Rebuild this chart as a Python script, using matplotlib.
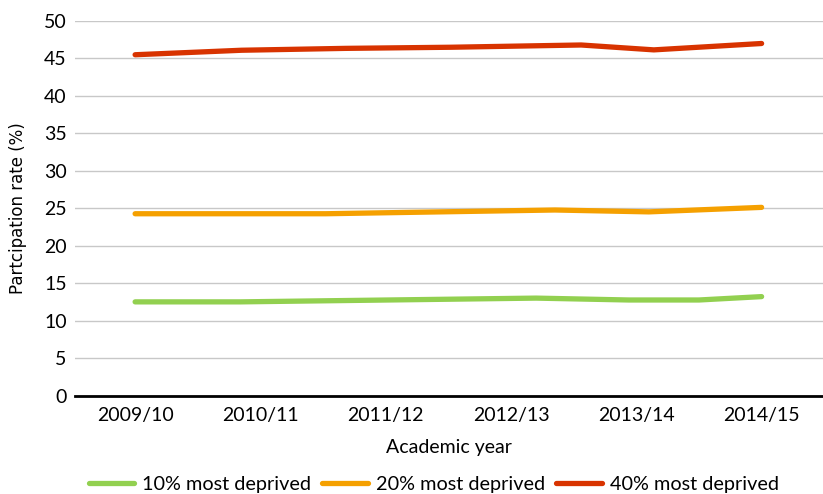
import matplotlib
matplotlib.use('Agg')
import matplotlib.pyplot as plt
from matplotlib.lines import Line2D

years = ['2009/10', '2010/11', '2011/12', '2012/13', '2013/14', '2014/15']

# series; x is in category units (0 = 2009/10)
x10 = [0.0, 0.84, 3.2, 3.94, 4.5, 5.0]
y10 = [12.55, 12.55, 13.05, 12.8, 12.8, 13.25]
x20 = [0.0, 1.52, 3.35, 4.1, 5.0]
y20 = [24.3, 24.3, 24.8, 24.55, 25.15]
x40 = [0.0, 0.85, 1.68, 2.52, 3.56, 4.14, 5.0]
y40 = [45.5, 46.1, 46.35, 46.5, 46.8, 46.15, 47.0]

labels = ['10% most deprived', '20% most deprived', '40% most deprived']
colors = ['#92d050', '#f5a000', '#d83300']

narrow = ['Lato', 'DejaVu Sans']

fig = plt.figure(figsize=(8.23, 4.94), dpi=100)
ax = fig.add_axes([0.0911, 0.1984, 0.9089, 0.7591])

for xs, ys, c in zip([x10, x20, x40], [y10, y20, y40], colors):
    ax.plot(xs, ys, color=c, lw=3.8, solid_capstyle='round',
            solid_joinstyle='round', zorder=3)

ax.set_xlim(-0.48, 5.49)
ax.set_ylim(0, 50)
ax.set_yticks(range(0, 51, 5))
ax.set_xticks(range(len(years)))
ax.set_xticklabels(years)
ax.yaxis.grid(True, color='#c8c8c8', lw=1)
ax.set_axisbelow(True)
for s in ['top', 'right', 'left']:
    ax.spines[s].set_visible(False)
ax.spines['bottom'].set_color('black')
ax.spines['bottom'].set_linewidth(2)
ax.spines['bottom'].set_zorder(4)
ax.tick_params(axis='x', length=0, pad=8)
ax.tick_params(axis='y', length=0, pad=6)
for t in ax.get_xticklabels() + ax.get_yticklabels():
    t.set_family(narrow)
    t.set_fontsize(14)

ax.set_xlabel('Academic year', family=narrow, fontsize=14, labelpad=11)
ax.set_ylabel('Partcipation rate (%)', family='DejaVu Sans', fontsize=12,
              labelpad=12)

handles = [Line2D([], [], color=c, lw=3.8, solid_capstyle='round') for c in colors]
fig.legend(handles, labels, loc='lower center', ncol=3, frameon=False,
           bbox_to_anchor=(0.527, -0.035), prop={'family': narrow, 'size': 14.3},
           handlelength=2.3, columnspacing=0.55, handletextpad=0.4)

fig.savefig('out.png', dpi=100)
